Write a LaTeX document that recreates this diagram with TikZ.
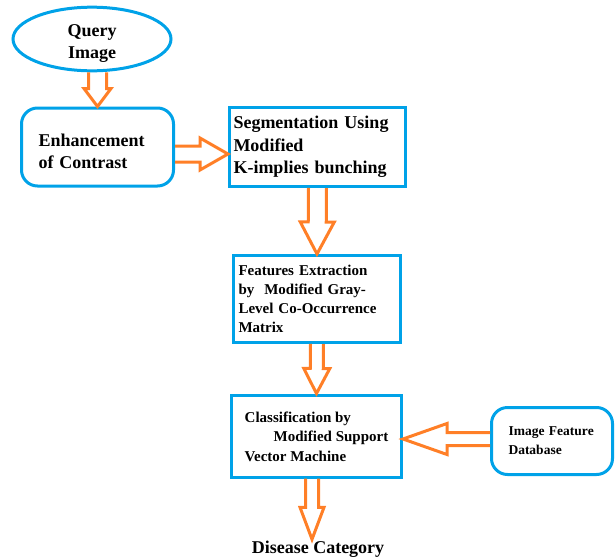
\documentclass[tikz,border=0pt]{standalone}
\usepackage{fontspec}
\setmainfont{Liberation Serif}
\usetikzlibrary{calc,shapes.geometric}
\definecolor{bblue}{RGB}{0,162,232}
\definecolor{aorange}{RGB}{255,127,39}
% block arrow: from #1 to #2, shaft half width #3, head half width #4, head length #5
\newcommand\barrow[5]{%
  \coordinate (hb) at ($(#2)!#5!(#1)$);
  \draw[arr] ($(#1)!#3!90:(#2)$) -- ($(hb)!#3!-90:(#1)$) -- ($(hb)!#4!-90:(#1)$) -- (#2)
     -- ($(hb)!#4!90:(#1)$) -- ($(hb)!#3!90:(#1)$) -- ($(#1)!#3!-90:(#2)$);
}
\begin{document}
\begin{tikzpicture}[x=1pt,y=-1pt,
  big/.style={font=\bfseries\fontsize{18}{22.5}\selectfont},
  small/.style={font=\bfseries\fontsize{15}{19.2}\selectfont},
  box/.style={draw=bblue,line width=3pt,rectangle,align=left,inner ysep=0pt},
  arr/.style={draw=aorange,line width=3pt,line join=miter}]
\useasboundingbox (0,0) rectangle (616,557);
\clip (0,0) rectangle (616,557);

\node[ellipse,draw=bblue,line width=3pt,minimum width=158pt,minimum height=60pt,
      inner sep=0pt,big] (q) at (92,39)
      {\raisebox{-4pt}[\height][\depth]{\begin{tabular}{@{}c@{}}Query\\Image\end{tabular}}};
\node[box,big,rounded corners=16pt,minimum width=152pt,minimum height=78pt,
      text width=118pt,inner xsep=17pt] (e) at (97.5,147)
      {\raisebox{-6pt}[\height][\depth]{\begin{tabular}{@{}l@{}}Enhancement\\of Contrast\end{tabular}}};
\node[box,big,minimum width=176pt,minimum height=79pt,
      text width=168pt,inner xsep=4pt] (s) at (317.5,147) {Segmentation Using\\Modified\\K-implies bunching};
\node[box,small,minimum width=167pt,minimum height=87pt,
      text width=157pt,inner xsep=5pt] (f) at (317,299) {Features Extraction\\by~ Modified Gray-\\Level Co-Occurrence\\Matrix};
\node[box,font=\bfseries\fontsize{15}{19.5}\selectfont,minimum width=170pt,minimum height=82pt]
      (c) at (316.5,436) {\raisebox{-2pt}[\height][\depth]{\begin{tabular}{@{}l@{}}Classification by\\\hspace*{29pt}Modified Support\\Vector Machine\end{tabular}}};
\node[box,font=\bfseries\fontsize{13.5}{19}\selectfont,rounded corners=16pt,minimum width=121pt,minimum height=67pt,
      text width=87pt,inner xsep=17pt] (d) at (552,441) {Image Feature\\Database};
\node[big,anchor=base,inner sep=1pt] (dc) at (318,553) {Disease Category};

% connectors
\coordinate (a1s) at (e.north |- q.south);
\barrow{a1s}{e.north}{9pt}{13.5pt}{18pt}
\coordinate (a2s) at ($(e.east)+(0,7)$);
\coordinate (a2t) at (s.west |- a2s);
\barrow{a2s}{a2t}{8pt}{16pt}{28pt}
\barrow{s.south}{f.north}{9pt}{17pt}{32pt}
\barrow{f.south}{c.north}{6.5pt}{13pt}{25pt}
\coordinate (a5s) at ($(d.west)+(0,-2)$);
\coordinate (a5t) at (c.east |- a5s);
\barrow{a5s}{a5t}{6.5pt}{15.5pt}{44pt}
\coordinate (a6s) at ($(c.south)+(-4.5,0)$);
\coordinate (a6t) at (a6s |- dc.north);
\barrow{a6s}{a6t}{6.5pt}{12pt}{32pt}
\end{tikzpicture}
\end{document}
